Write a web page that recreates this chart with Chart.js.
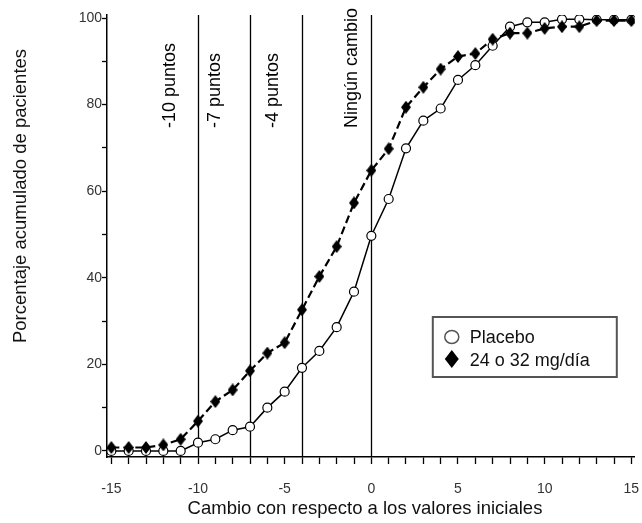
<!DOCTYPE html>
<html>
<head>
<meta charset="utf-8">
<script src="https://cdn.jsdelivr.net/npm/chart.js@4/dist/chart.umd.min.js"></script>
<style>
	html, body { margin: 0; padding: 0; background: #fff; }
	canvas { display: block; }
</style>
</head>
<body>
<canvas id="cumChart" width="642" height="523"></canvas>
<script>
// change from baseline, one point per unit
const changeValues = [-15, -14, -13, -12, -11, -10, -9, -8, -7, -6, -5, -4, -3, -2, -1, 0,
	1, 2, 3, 4, 5, 6, 7, 8, 9, 10, 11, 12, 13, 14, 15];

const placeboPct = [0, 0, 0, 0, 0, 1.9, 2.7, 4.8, 5.6, 10, 13.7, 19.2, 23.1, 28.6, 36.8, 49.7,
	58.2, 69.9, 76.3, 79.1, 85.7, 89.1, 93.6, 98, 99, 99, 99.7, 99.7, 99.6, 99.6, 99.6];

const drugPct = [0.8, 0.8, 0.8, 1.4, 2.7, 6.9, 11.4, 14.1, 18.5, 22.6, 25, 32.6, 40.3, 47.2, 57.3, 64.8,
	69.8, 79.4, 84, 88.2, 91.1, 91.8, 95.1, 96.5, 96.5, 97.6, 98, 98, 99.4, 99.4, 99.4];

const seriesNames = ['Placebo', '24 o 32 mg/día'];

// vertical reference lines and where their labels sit (in x units)
const refLineValues = [-10, -7, -4, 0];
const refLineLabels = ['-10 puntos', '-7 puntos', '-4 puntos', 'Ningún cambio'];
const refLabelAt = [-11.6, -9.0, -5.7, -1.1];

const xTickValues = changeValues;
const xLabelValues = [-15, -10, -5, 0, 5, 10, 15];
const yTickValues = [0, 10, 20, 30, 40, 50, 60, 70, 80, 90, 100];
const yLabelValues = [0, 20, 40, 60, 80, 100];

const xTitle = 'Cambio con respecto a los valores iniciales';
const yTitle = 'Porcentaje acumulado de pacientes';

const FONT = "'Liberation Sans', Arial, sans-serif";
Chart.defaults.font.family = FONT;

function diamondImage(w, h) {
	const c = document.createElement('canvas');
	c.width = w;
	c.height = h;
	const g = c.getContext('2d');
	g.beginPath();
	g.moveTo(w / 2, 0);
	g.lineTo(w, h / 2);
	g.lineTo(w / 2, h);
	g.lineTo(0, h / 2);
	g.closePath();
	g.fillStyle = '#000';
	g.fill();
	return c;
}

const diamondPoint = diamondImage(10, 13);

const decorPlugin = {
	id: 'decor',
	beforeDatasetsDraw(chart) {
		const {ctx, chartArea, scales} = chart;
		ctx.save();
		ctx.strokeStyle = '#000';
		ctx.lineWidth = 1.3;
		refLineValues.forEach(v => {
			const x = Math.round(scales.x.getPixelForValue(v)) + 0.5;
			ctx.beginPath();
			ctx.moveTo(x, chartArea.top);
			ctx.lineTo(x, chartArea.bottom);
			ctx.stroke();
		});
		ctx.fillStyle = '#000';
		ctx.font = `18px ${FONT}`;
		ctx.textAlign = 'left';
		ctx.textBaseline = 'middle';
		refLineLabels.forEach((label, i) => {
			ctx.save();
			ctx.translate(scales.x.getPixelForValue(refLabelAt[i]), chartArea.top + 113);
			ctx.rotate(-Math.PI / 2);
			ctx.fillText(label, 0, 0);
			ctx.restore();
		});
		ctx.restore();
	},
	afterDraw(chart) {
		const {ctx, chartArea} = chart;
		ctx.save();
		ctx.fillStyle = '#111';
		ctx.font = `18.5px ${FONT}`;
		ctx.textAlign = 'center';
		ctx.textBaseline = 'middle';
		// axis titles
		ctx.fillText(xTitle, chartArea.left + 258, chartArea.bottom + 52);
		ctx.save();
		ctx.translate(21, chartArea.top + 181);
		ctx.rotate(-Math.PI / 2);
		ctx.fillText(yTitle, 0, 0);
		ctx.restore();

		// legend box
		const bx = chartArea.right - 202, by = chartArea.top + 302;
		const bw = 184, bh = 60;
		ctx.strokeStyle = '#555';
		ctx.lineWidth = 2;
		ctx.strokeRect(bx, by, bw, bh);

		ctx.beginPath();
		ctx.ellipse(bx + 19, by + 20, 7, 6.5, 0, 0, Math.PI * 2);
		ctx.fillStyle = '#fff';
		ctx.fill();
		ctx.strokeStyle = '#555';
		ctx.lineWidth = 1.5;
		ctx.stroke();

		ctx.beginPath();
		ctx.moveTo(bx + 19, by + 33);
		ctx.lineTo(bx + 26, by + 42);
		ctx.lineTo(bx + 19, by + 51);
		ctx.lineTo(bx + 12, by + 42);
		ctx.closePath();
		ctx.fillStyle = '#000';
		ctx.fill();

		ctx.fillStyle = '#111';
		ctx.font = `18px ${FONT}`;
		ctx.textAlign = 'left';
		ctx.fillText(seriesNames[0], bx + 37, by + 21);
		ctx.fillText(seriesNames[1], bx + 37, by + 44);
		ctx.restore();
	}
};

const ctx = document.getElementById('cumChart').getContext('2d');

new Chart(ctx, {
	type: 'line',
	data: {
		labels: changeValues,
		datasets: [
			{
				label: seriesNames[0],
				data: changeValues.map((x, i) => ({x: x, y: placeboPct[i]})),
				borderColor: '#000',
				borderWidth: 1.5,
				pointStyle: 'circle',
				pointRadius: 4.5,
				pointBorderWidth: 1.2,
				pointBackgroundColor: '#fff',
				pointBorderColor: '#000',
				tension: 0,
				order: 1,
			},
			{
				label: seriesNames[1],
				data: changeValues.map((x, i) => ({x: x, y: drugPct[i]})),
				borderColor: '#000',
				borderWidth: 2.2,
				borderDash: [8, 4],
				pointStyle: diamondPoint,
				pointRadius: 5,
				tension: 0,
				order: 0,
			}
		]
	},
	options: {
		responsive: false,
		animation: false,
		layout: {
			padding: {top: 15, right: 7, left: 0, bottom: 0}
		},
		plugins: {
			legend: {display: false},
			tooltip: {enabled: false},
		},
		scales: {
			x: {
				type: 'linear',
				min: -15.25,
				max: 15.2,
				afterFit: scale => {
					scale.height = 66;
					scale.paddingLeft = 0;
					scale.paddingRight = 0;
				},
				afterBuildTicks: axis => { axis.ticks = xTickValues.map(v => ({value: v})); },
				border: {display: true, color: '#000', width: 1.5},
				grid: {drawOnChartArea: false, drawTicks: true, tickLength: 7, tickColor: '#000', tickWidth: 1.3},
				ticks: {
					padding: 17,
					color: '#333',
					font: {size: 14},
					maxRotation: 0,
					autoSkip: false,
					callback: v => xLabelValues.includes(v) ? String(v) : '',
				}
			},
			y: {
				type: 'linear',
				min: -1.4,
				max: 100.7,
				afterFit: scale => {
					scale.width = 107;
					scale.paddingTop = 0;
					scale.paddingBottom = 0;
				},
				afterBuildTicks: axis => { axis.ticks = yTickValues.map(v => ({value: v})); },
				border: {display: true, color: '#000', width: 1.5},
				grid: {drawOnChartArea: false, drawTicks: true, tickLength: 5, tickColor: '#000', tickWidth: 1.3},
				ticks: {
					padding: 0,
					color: '#333',
					font: {size: 14},
					autoSkip: false,
					callback: v => yLabelValues.includes(v) ? String(v) : '',
				}
			}
		}
	},
	plugins: [decorPlugin]
});
</script>
</body>
</html>
